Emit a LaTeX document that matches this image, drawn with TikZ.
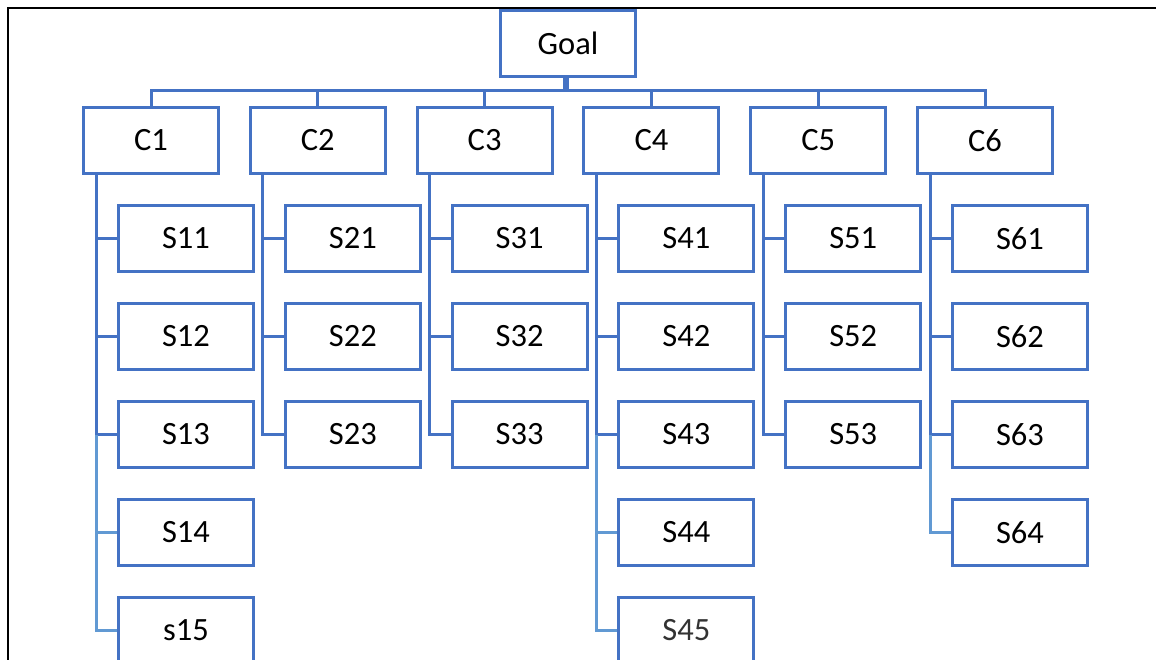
\documentclass[tikz,border=0pt]{standalone}
\usepackage{fontspec}
\setmainfont{Carlito}
\usetikzlibrary{calc}
\definecolor{boxblue}{HTML}{4472C4}
\definecolor{linkblue}{HTML}{4472C4}
\definecolor{fadeblue}{HTML}{6199D3}
\tikzset{
  box/.style={draw=boxblue, line width=3pt, fill=white, inner sep=0pt,
    minimum width=135pt, minimum height=66pt,
    font=\fontsize{32.5}{38}\selectfont},
  link/.style={draw=linkblue, line width=3pt},
  fadelink/.style={draw=fadeblue, line width=3pt},
}
\begin{document}
\begin{tikzpicture}[x=1pt, y=-1pt]
\useasboundingbox (0,0) rectangle (1156,660);
\fill[white] (0,0) rectangle (1156,660);
% frame
\draw[black, line width=2.2pt] (8,660) -- (8,8) -- (1156,8);

% top node and bus
\node[box] (goal) at (568,43.5) {Goal};
\coordinate (bus) at (566,91);
\draw[link, line width=6pt] (goal.south) ++(-2,0) -- (bus);

% category nodes
\foreach \k in {1,...,6} {
  \node[box] (c\k) at ({151+166.8*(\k-1)},140.5) {C\k};
  \draw[link] (bus) -| (c\k.north);
}

% sub-criteria: column, number of children
\foreach \k/\n in {1/5,2/3,3/3,4/5,5/3,6/4} {
  \coordinate (t\k) at ($(c\k.south west)+(14,0)$);
  \foreach \i in {1,...,\n} {
    \pgfmathsetmacro{\yy}{238.5+98*(\i-1)}
    \ifnum\k=1 \ifnum\i=5
      \node[box] (s\k\i) at ({186+166.8*(\k-1)},\yy) {s15};
    \else
      \node[box] (s\k\i) at ({186+166.8*(\k-1)},\yy) {S\k\i};
    \fi\else
      \ifnum\k=4 \ifnum\i=5
        \node[box, text=black!80] (s\k\i) at ({186+166.8*(\k-1)},\yy) {S\k\i};
      \else
        \node[box] (s\k\i) at ({186+166.8*(\k-1)},\yy) {S\k\i};
      \fi\else
        \node[box] (s\k\i) at ({186+166.8*(\k-1)},\yy) {S\k\i};
      \fi
    \fi
  }
  \foreach \i in {1,...,3} {
    \draw[link] (t\k) |- (s\k\i.west);
  }
  \ifnum\n>3
    \foreach \i in {4,...,\n} {
      \draw[fadelink] (t\k |- s\k3.west) |- (s\k\i.west);
    }
  \fi
}
\end{tikzpicture}
\end{document}
